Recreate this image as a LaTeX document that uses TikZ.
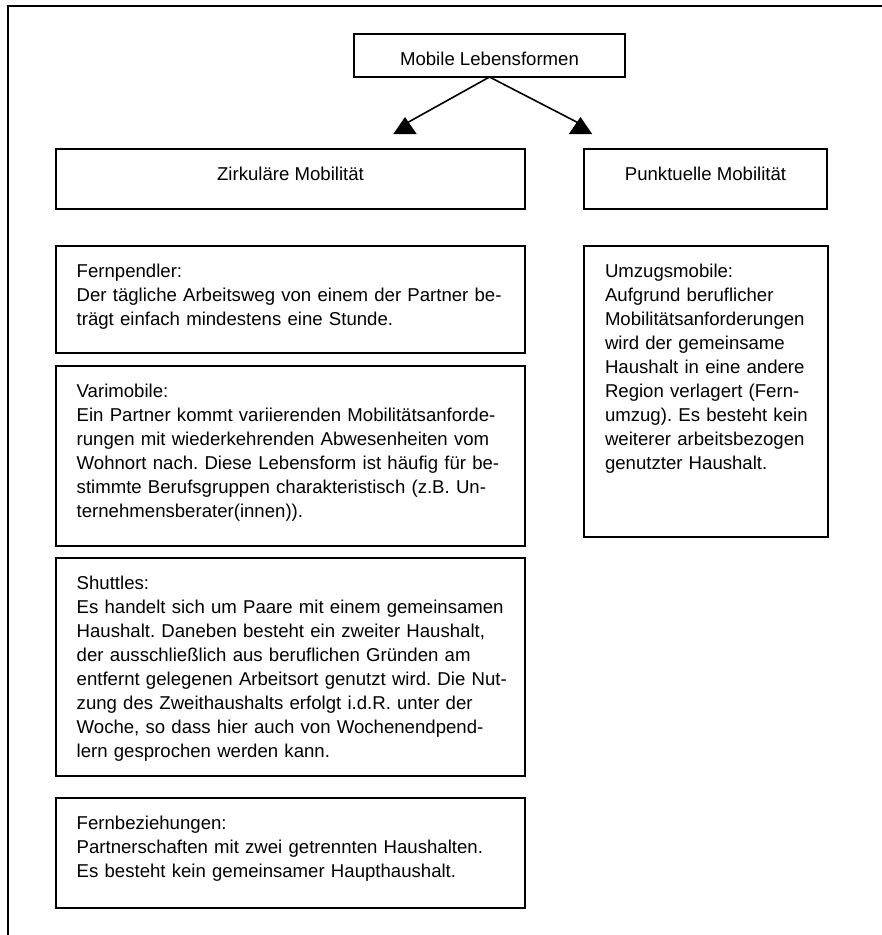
\documentclass[tikz,border=0pt]{standalone}
\usepackage{fontspec}
\setmainfont{Liberation Sans}
\usetikzlibrary{arrows.meta}

\begin{document}
\begin{tikzpicture}[
            x=1pt, y=-1pt,
            box/.style={draw=black, line width=1.6pt, outer sep=0pt, inner ysep=0pt, text height=31pt, anchor=north west, font=\fontsize{18.6}{24}\selectfont\frenchspacing},
            titlebox/.style={box, inner xsep=0pt, align=center},
            notebox/.style={box, inner xsep=7pt, align=left, text width=455pt, execute at begin node={\leftskip=13.7pt}},
            arrow/.style={line width=1.6pt, -{Triangle[reversed, length=17pt, width=23pt]}}
        ]
            \useasboundingbox (0,0) rectangle (882,935);
            % Frame, cut off at right and bottom
            \draw[line width=2pt] (7.5,935) |- (882,6);

            % Top and the two kinds of mobility
            \node[titlebox, minimum width=271pt, text depth=12pt] (mobil) at (354,34) {Mobile Lebensformen};
            \node[titlebox, minimum width=469pt, text depth=29pt] (zirk) at (56,149) {Zirkuläre Mobilität};
            \node[titlebox, minimum width=243pt, text depth=29pt] (punkt) at (584,149) {Punktuelle Mobilität};

            % Arrows
            \coordinate (zirktip) at (405,134);
            \coordinate (punkttip) at (580.5,134);
            \draw[arrow] (mobil.south) -- ([yshift=10pt]zirktip) -- (zirktip);
            \draw[arrow] (mobil.south) -- ([yshift=10pt]punkttip) -- (punkttip);

            % Circular mobility
            \node[notebox, text depth=76pt] (fern) at (56,246) {Fernpendler:\\Der tägliche Arbeitsweg von einem der Partner be-\\trägt einfach mindestens eine Stunde.};
            \node[notebox, text depth=149pt] (vari) at (56,366) {Varimobile:\\Ein Partner kommt variierenden Mobilitätsanforde-\\rungen mit wiederkehrenden Abwesenheiten vom\\Wohnort nach. Diese Lebensform ist häufig für be-\\stimmte Berufsgruppen charakteristisch (z.B. Un-\\ternehmensberater(innen)).};
            \node[notebox, text depth=187pt] (shut) at (56,558) {Shuttles:\\Es handelt sich um Paare mit einem gemeinsamen\\Haushalt. Daneben besteht ein zweiter Haushalt,\\der ausschließlich aus beruflichen Gründen am\\entfernt gelegenen Arbeitsort genutzt wird. Die Nut-\\zung des Zweithaushalts erfolgt i.d.R. unter der\\Woche, so dass hier auch von Wochenendpend-\\lern gesprochen werden kann.};
            \node[notebox, text depth=79pt] (bezieh) at (56,798) {Fernbeziehungen:\\Partnerschaften mit zwei getrennten Haushalten.\\Es besteht kein gemeinsamer Haupthaushalt.};

            % Point mobility
            \node[notebox, text width=230pt, execute at begin node={\leftskip=14pt}, text depth=260pt] (umzug) at (584,246) {Umzugsmobile:\\Aufgrund beruflicher\\Mobilitätsanforderungen\\wird der gemeinsame\\Haushalt in eine andere\\Region verlagert (Fern-\\umzug). Es besteht kein\\weiterer arbeitsbezogen\\genutzter Haushalt.};
        \end{tikzpicture}
\end{document}
